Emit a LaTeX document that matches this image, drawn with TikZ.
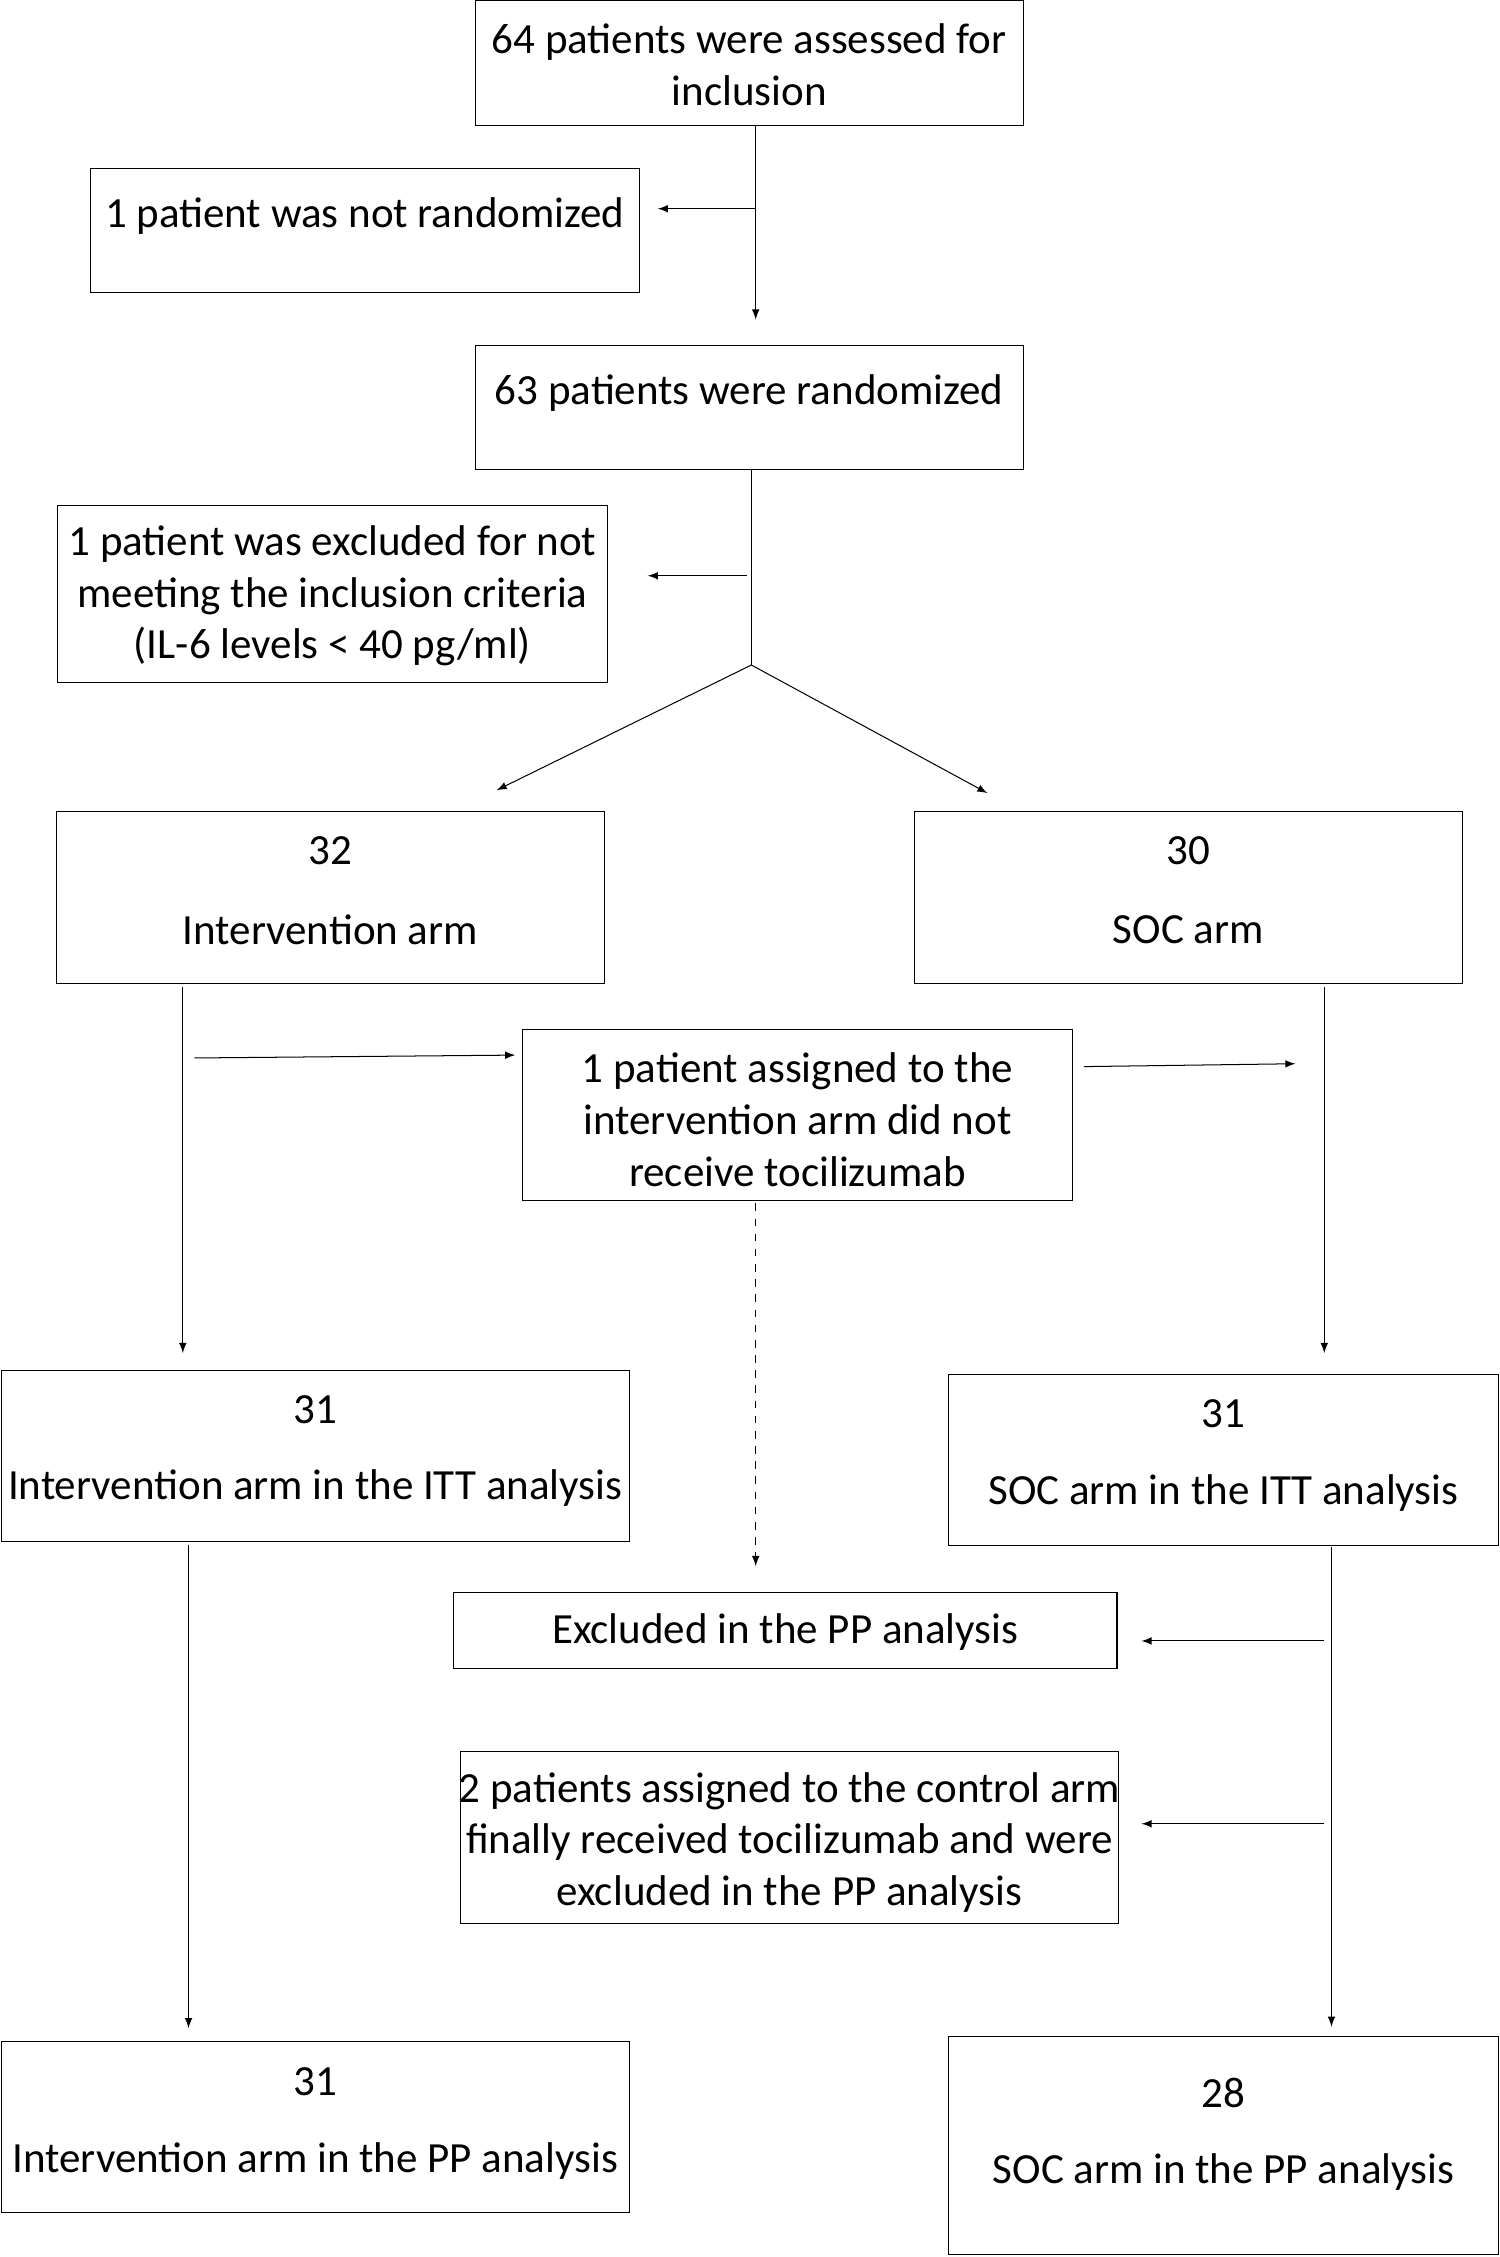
\documentclass[tikz,border=0pt]{standalone}
\usepackage{fontspec}
\setmainfont{Carlito}
\usetikzlibrary{positioning}
\begin{document}
\fontsize{17}{20.5}\selectfont
\begin{tikzpicture}[x=0.02cm,y=-0.02cm,
    box/.style={draw, inner sep=0pt},
    txt/.style={align=center, inner sep=0pt},
    arr/.style={-latex, thin}]
            \useasboundingbox (0,0) rectangle (1042,1568);
            % Boxes
            \node[box, minimum width=381*0.02cm, minimum height=87*0.02cm] (assessed) at (520.5,43.5) {};
            \node[box, minimum width=381*0.02cm, minimum height=86*0.02cm] (notrand) at (253.5,160) {};
            \node[box, minimum width=381*0.02cm, minimum height=86*0.02cm] (rand) at (520.5,283) {};
            \node[box, minimum width=382*0.02cm, minimum height=123*0.02cm] (excl) at (231,412.5) {};
            \node[box, minimum width=381*0.02cm, minimum height=119*0.02cm] (interv) at (229.5,623.5) {};
            \node[box, minimum width=381*0.02cm, minimum height=119*0.02cm] (soc) at (825.5,623.5) {};
            \node[box, minimum width=382*0.02cm, minimum height=119*0.02cm] (noreceive) at (554,774.5) {};
            \node[box, minimum width=436*0.02cm, minimum height=119*0.02cm] (intitt) at (219,1011.5) {};
            \node[box, minimum width=382*0.02cm, minimum height=119*0.02cm] (socitt) at (850,1014.5) {};
            \node[box, minimum width=461*0.02cm, minimum height=53*0.02cm] (ppexcl) at (545.5,1132.5) {};
            \node[box, minimum width=457*0.02cm, minimum height=119*0.02cm] (control) at (548.5,1276.5) {};
            \node[box, minimum width=436*0.02cm, minimum height=119*0.02cm] (intpp) at (219,1477.5) {};
            \node[box, minimum width=382*0.02cm, minimum height=151*0.02cm] (socpp) at (850,1490.5) {};

            % Texts
            \node[txt] (t1) at (520.5,45) {64 patients were assessed for\\inclusion};
            \node[txt] (t2) at (253.5,150) {1 patient was not randomized};
            \node[txt] (t3) at (520.5,273) {63 patients were randomized};
            \node[txt] (t4) at (231,414) {1 patient was excluded for not\\meeting the inclusion criteria\\(IL-6 levels < 40 pg/ml)};
            \node[txt] (t5) at (229.5,591) {32};
            \node[txt] (t6) at (229.5,646) {Intervention arm};
            \node[txt] (t7) at (825.5,591) {30};
            \node[txt] (t8) at (825.5,646) {SOC arm};
            \node[txt] (t9) at (554,778) {1 patient assigned to the\\intervention arm did not\\receive tocilizumab};
            \node[txt] (t10) at (219,979) {31};
            \node[txt] (t11) at (219,1034) {Intervention arm in the ITT analysis};
            \node[txt] (t12) at (850,982) {31};
            \node[txt] (t13) at (850,1037) {SOC arm in the ITT analysis};
            \node[txt] (t14) at (545.5,1134) {Excluded in the PP analysis};
            \node[txt] (t15) at (548.5,1280) {2 patients assigned to the control arm\\finally received tocilizumab and were\\excluded in the PP analysis};
            \node[txt] (t16) at (219,1446) {31};
            \node[txt] (t17) at (219,1501) {Intervention arm in the PP analysis};
            \node[txt] (t18) at (850,1454) {28};
            \node[txt] (t19) at (850,1509) {SOC arm in the PP analysis};

            % Points
            \coordinate (a1) at (525,87);   \coordinate (a2) at (525,222);
            \coordinate (a3) at (525,145);  \coordinate (a4) at (457,145);
            \coordinate (b1) at (522,326);  \coordinate (split) at (522,462);
            \coordinate (b2) at (519,400);  \coordinate (b3) at (450,400);
            \coordinate (s1) at (345,549);  \coordinate (s2) at (686,551);
            \coordinate (c1) at (127,686);  \coordinate (c2) at (127,940);
            \coordinate (c3) at (135,735);  \coordinate (c4) at (358,733);
            \coordinate (c5) at (753,741);  \coordinate (c6) at (900,739);
            \coordinate (d1) at (920,686);  \coordinate (d2) at (920,940);
            \coordinate (e1) at (525,836);  \coordinate (e2) at (525,1088);
            \coordinate (f1) at (131,1073); \coordinate (f2) at (131,1409);
            \coordinate (g1) at (925,1075); \coordinate (g2) at (925,1408);
            \coordinate (h1) at (920,1140); \coordinate (h2) at (793,1140);
            \coordinate (h3) at (920,1267); \coordinate (h4) at (793,1267);

            % Edges
            \draw[arr] (a1) -- (a2);
            \draw[arr] (a3) -- (a4);
            \draw (b1) -- (split);
            \draw[arr] (b2) -- (b3);
            \draw[arr] (split) -- (s1);
            \draw[arr] (split) -- (s2);
            \draw[arr] (c1) -- (c2);
            \draw[arr] (c3) -- (c4);
            \draw[arr] (c5) -- (c6);
            \draw[arr] (d1) -- (d2);
            \draw[arr, dashed] (e1) -- (e2);
            \draw[arr] (f1) -- (f2);
            \draw[arr] (g1) -- (g2);
            \draw[arr] (h1) -- (h2);
            \draw[arr] (h3) -- (h4);
        \end{tikzpicture}
\end{document}
